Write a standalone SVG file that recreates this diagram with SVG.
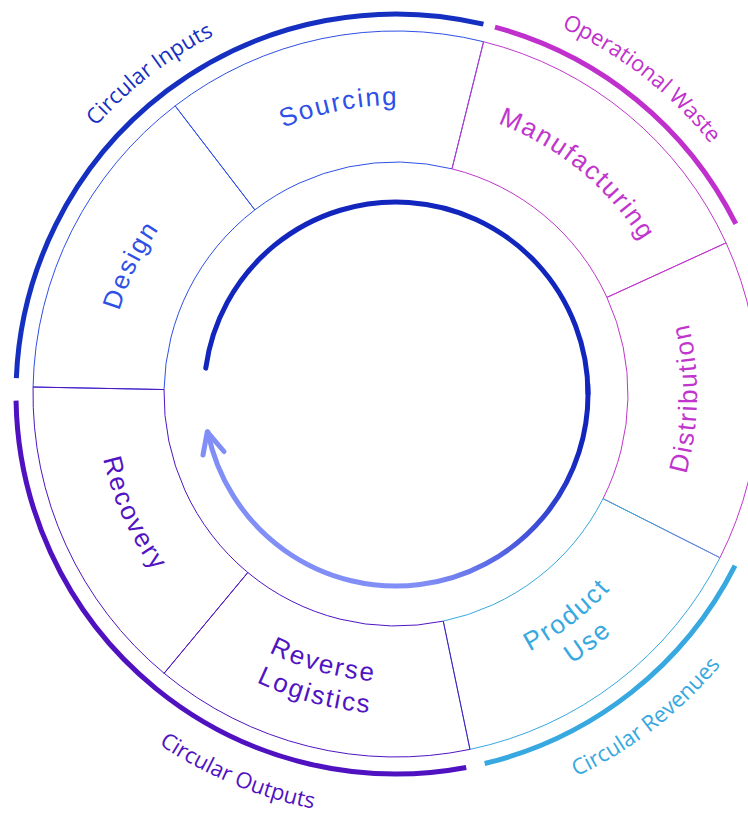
<svg xmlns="http://www.w3.org/2000/svg" width="748" height="814" viewBox="0 0 748 814">
<defs>
<style>
.seg{fill:none;stroke-width:1}
.lbl{font-family:"Liberation Sans",Arial,sans-serif;font-size:26px;letter-spacing:2px}
.band{fill:none;stroke-width:5}
.blbl{font-family:"Open Sans","Noto Sans",sans-serif;font-size:22px}
.c-blue{stroke:#2e50e6}
.t-blue{fill:#2e50e6}
.c-mag{stroke:#c036cc}
.t-mag{fill:#c036cc}
.c-sky{stroke:#37a8e0}
.t-sky{fill:#37a8e0}
.c-pur{stroke:#5014c2}
.t-pur{fill:#5014c2}
</style>
<linearGradient id="arrowGrad" gradientUnits="userSpaceOnUse" x1="580" y1="450" x2="430" y2="590">
<stop offset="0" stop-color="#1226bd"/>
<stop offset="0.5" stop-color="#4656dc"/>
<stop offset="1" stop-color="#808ef5"/>
</linearGradient>
<path id="pInputs" d="M 39.75 580.25 A 402 402 0 0 1 667.07 97.12"/>
<path id="pWaste" d="M 126.50 95.72 A 402 402 0 0 1 751.29 582.10"/>
<path id="pRevenues" d="M 111.32 706.85 A 423 423 0 0 0 770.52 197.39"/>
<path id="pOutputs" d="M -16.64 301.02 A 423 423 0 0 0 751.95 622.50"/>
<path id="pDesign" d="M 226.53 628.09 A 289 289 0 0 1 475.19 116.07"/>
<path id="pSourcing" d="M 107.06 400.05 A 289 289 0 0 1 665.43 289.50"/>
<path id="pManuf" d="M 208.32 174.24 A 289 289 0 0 1 647.55 536.30"/>
<path id="pDistrib" d="M 444.13 691.12 A 301 301 0 0 0 452.41 98.33"/>
<path id="pRecovery" d="M 226.08 146.77 A 300 300 0 0 0 471.12 684.43"/>
<path id="pProduct1" d="M 200.83 608.48 A 290 290 0 0 0 652.77 259.21"/>
<path id="pProduct2" d="M 179.29 632.15 A 322 322 0 0 0 681.10 244.33"/>
<path id="pReverse1" d="M 109.19 367.90 A 288 288 0 0 0 656.58 516.63"/>
<path id="pReverse2" d="M 77.32 365.00 A 320 320 0 0 0 685.54 530.26"/>
</defs>
<rect width="748" height="814" fill="#ffffff"/>

<g id="design">
<path class="seg c-blue" d="M 164.04 389.55 L 33.07 387.03 A 363 363 0 0 1 175.15 105.89 L 254.85 209.86 A 232 232 0 0 0 164.04 389.55 Z"/>
<text class="lbl t-blue"><textPath href="#pDesign" startOffset="50%" text-anchor="middle">Design</textPath></text>
</g>
<g id="sourcing">
<path class="seg c-blue" d="M 254.85 209.86 L 175.15 105.89 A 363 363 0 0 1 483.56 41.71 L 451.96 168.84 A 232 232 0 0 0 254.85 209.86 Z"/>
<text class="lbl t-blue"><textPath href="#pSourcing" startOffset="50%" text-anchor="middle">Sourcing</textPath></text>
</g>
<g id="manufacturing">
<path class="seg c-mag" d="M 451.96 168.84 L 483.56 41.71 A 363 363 0 0 1 726.04 242.85 L 606.93 297.40 A 232 232 0 0 0 451.96 168.84 Z"/>
<text class="lbl t-mag"><textPath href="#pManuf" startOffset="50%" text-anchor="middle">Manufacturing</textPath></text>
</g>
<g id="distribution">
<path class="seg c-mag" d="M 606.93 297.40 L 726.04 242.85 A 363 363 0 0 1 719.98 557.71 L 603.06 498.63 A 232 232 0 0 0 606.93 297.40 Z"/>
<text class="lbl t-mag"><textPath href="#pDistrib" startOffset="50%" text-anchor="middle">Distribution</textPath></text>
</g>
<g id="product-use">
<path class="seg c-sky" d="M 603.06 498.63 L 719.98 557.71 A 363 363 0 0 1 469.98 749.38 L 443.28 621.13 A 232 232 0 0 0 603.06 498.63 Z"/>
<text class="lbl t-sky"><textPath href="#pProduct1" startOffset="50%" text-anchor="middle">Product</textPath></text>
<text class="lbl t-sky"><textPath href="#pProduct2" startOffset="50%" text-anchor="middle">Use</textPath></text>
</g>
<g id="reverse-logistics">
<path class="seg c-pur" d="M 443.28 621.13 L 469.98 749.38 A 363 363 0 0 1 164.12 673.29 L 247.80 572.50 A 232 232 0 0 0 443.28 621.13 Z"/>
<text class="lbl t-pur"><textPath href="#pReverse1" startOffset="50%" text-anchor="middle">Reverse</textPath></text>
<text class="lbl t-pur"><textPath href="#pReverse2" startOffset="50%" text-anchor="middle">Logistics</textPath></text>
</g>
<g id="recovery">
<path class="seg c-pur" d="M 247.80 572.50 L 164.12 673.29 A 363 363 0 0 1 33.07 387.03 L 164.04 389.55 A 232 232 0 0 0 247.80 572.50 Z"/>
<text class="lbl t-pur"><textPath href="#pRecovery" startOffset="50%" text-anchor="middle">Recovery</textPath></text>
</g>

<g id="circular-inputs">
<path class="band" stroke="#1530c0" d="M 16.33 378.09 A 380 380 0 0 1 483.41 24.18"/>
<text class="blbl" fill="#1530c0"><textPath href="#pInputs" startOffset="50%" text-anchor="middle">Circular Inputs</textPath></text>
</g>
<g id="operational-waste">
<path class="band" stroke="#c030cc" d="M 494.99 27.11 A 380 380 0 0 1 735.80 223.84"/>
<text class="blbl" fill="#c030cc"><textPath href="#pWaste" startOffset="50%" text-anchor="middle">Operational Waste</textPath></text>
</g>
<g id="circular-revenues">
<path class="band" stroke="#37a8e0" d="M 735.04 565.61 A 380 380 0 0 1 484.69 763.51"/>
<text class="blbl" fill="#37a8e0"><textPath href="#pRevenues" startOffset="50%" text-anchor="middle">Circular Revenues</textPath></text>
</g>
<g id="circular-outputs">
<path class="band" stroke="#5012c0" d="M 466.22 767.46 A 380 380 0 0 1 16.06 400.63"/>
<text class="blbl" fill="#5012c0"><textPath href="#pOutputs" startOffset="50%" text-anchor="middle">Circular Outputs</textPath></text>
</g>

<g id="connectors" fill="none" stroke-width="5" stroke-linecap="round" stroke-linejoin="round">
<path stroke="#1226bd" d="M 205.75 368.11 A 192 192 0 0 1 588 394"/>
<path stroke="url(#arrowGrad)" d="M 587.74 383.95 A 192 192 0 0 1 207.79 431.95"/>
<path stroke="#808ef5" d="M 203 455 L 207.3 431.8 L 224 451.5"/>
</g>
</svg>
